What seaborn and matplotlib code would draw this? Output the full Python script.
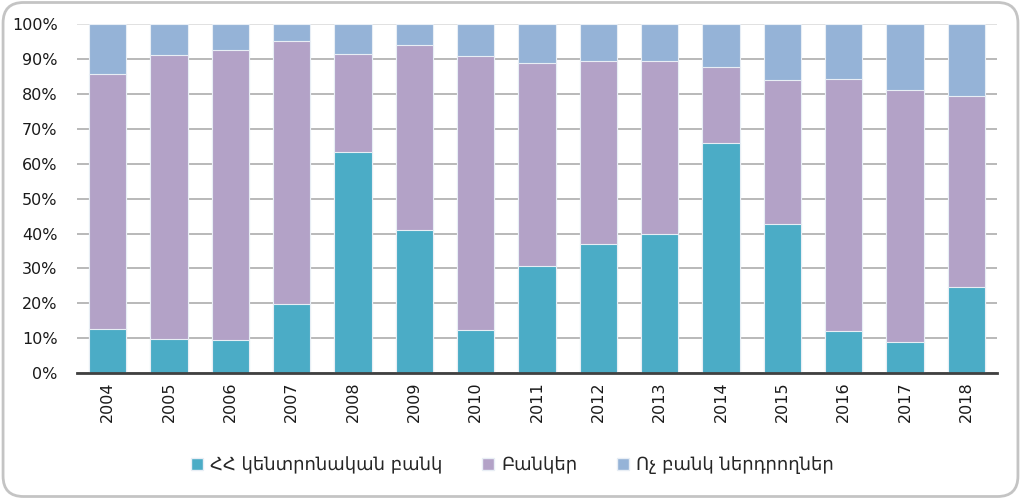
import matplotlib
matplotlib.use("Agg")
import matplotlib.pyplot as plt
import pandas as pd
import seaborn as sns
from matplotlib.patches import FancyBboxPatch, Patch
from matplotlib.ticker import FixedLocator

years = ['2004', '2005', '2006', '2007', '2008', '2009', '2010', '2011',
         '2012', '2013', '2014', '2015', '2016', '2017', '2018']
# shares in percent
central_bank = [12.7, 9.8, 9.5, 19.9, 63.4, 41.1, 12.4, 30.7, 37.0, 39.9, 65.9, 42.8, 12.1, 9.0, 24.8]
banks = [73.0, 81.3, 83.1, 75.2, 28.0, 52.9, 78.4, 58.2, 52.4, 49.5, 21.8, 41.2, 72.2, 72.1, 54.6]
non_banks = [14.3, 8.9, 7.4, 4.9, 8.6, 6.0, 9.2, 11.1, 10.6, 10.6, 12.3, 16.0, 15.7, 18.9, 20.6]
series_names = ['ՀՀ կենտրոնական բանկ', 'Բանկեր', 'Ոչ բանկ ներդրողներ']
colors = ['#4BACC6', '#B3A2C7', '#95B3D7']

df = pd.DataFrame({'year': years, 'cb': central_bank, 'banks': banks, 'nb': non_banks})
df['lvl1'] = df['cb']
df['lvl2'] = df['cb'] + df['banks']
df['lvl3'] = df['lvl2'] + df['nb']

sns.set_style('white')
plt.rcParams['font.family'] = ['DejaVu Sans']

fig = plt.figure(figsize=(10.21, 4.99), dpi=100)
ax = fig.add_axes([0.0754, 0.252, 0.901, 0.700])

# stacked bars drawn back to front (cumulative heights)
for col, c in zip(['lvl3', 'lvl2', 'lvl1'], colors[::-1]):
    sns.barplot(data=df, x='year', y=col, color=c, width=0.61, ax=ax,
                edgecolor='#e8eef5', linewidth=0.8, saturation=1, zorder=3)

ax.set_ylim(0, 100)
ax.set_xlim(-0.5, len(years) - 0.5)
ax.set_yticks(range(0, 101, 10))
ax.set_yticklabels([f'{v}%' for v in range(0, 101, 10)], fontsize=11.5, color='#1a1a1a')
ax.grid(axis='y', color='#a6a6a6', linewidth=1.1, zorder=0)
ax.yaxis.get_gridlines()[-1].set_color('#d9d9d9')  # top line is lighter
ax.set_axisbelow(True)
ax.set_xlabel('')
ax.set_ylabel('')

ax.set_xticks(range(len(years)))
ax.set_xticklabels(years, rotation=90, fontsize=11.5, color='#1a1a1a')
ax.xaxis.set_minor_locator(FixedLocator([i - 0.5 for i in range(len(years) + 1)]))
ax.tick_params(axis='x', which='major', length=0, pad=6)
ax.tick_params(axis='x', which='minor', length=6, width=1.5, color='#404040', direction='out')
ax.tick_params(axis='y', length=0, pad=14)

for s in ['left', 'right', 'top']:
    ax.spines[s].set_visible(False)
ax.spines['bottom'].set_color('#404040')
ax.spines['bottom'].set_linewidth(2)
ax.spines['bottom'].set_zorder(5)

handles = [Patch(facecolor=c, edgecolor='#e8eef5') for c in colors]
fig.legend(handles, series_names, loc='center', bbox_to_anchor=(0.502, 0.068), ncol=3,
           frameon=False, fontsize=13, handlelength=0.65, handleheight=0.65,
           handletextpad=0.4, columnspacing=2.2)

frame = FancyBboxPatch((0.003, 0.005), 0.994, 0.99, boxstyle='round,pad=0,rounding_size=0.02',
                       transform=fig.transFigure, facecolor='none', edgecolor='#c4c4c4',
                       linewidth=2, mutation_aspect=2.05)
fig.patches.append(frame)

fig.savefig('out.png', dpi=100)
